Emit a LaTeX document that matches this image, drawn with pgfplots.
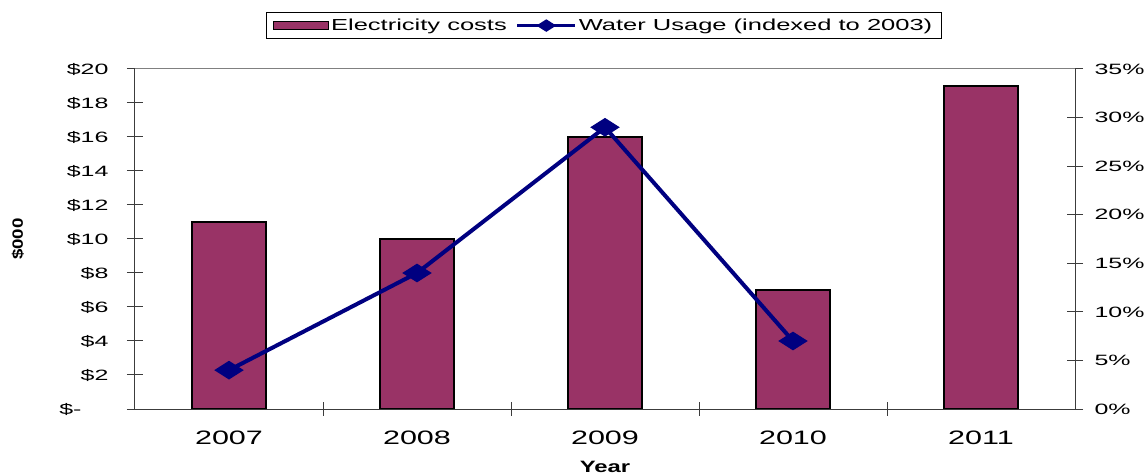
\documentclass[border=0pt]{standalone}
\usepackage{fontspec}
\setmainfont{Liberation Sans}
\newfontfamily\tickfont{Liberation Sans}[FakeStretch=1.67]
\newfontfamily\yearfont{Liberation Sans}[FakeStretch=1.57]
\newfontfamily\legendfont{Liberation Sans}[FakeStretch=1.6]
\newfontfamily\titlefont{Liberation Sans}[FakeStretch=1.45]
\newfontfamily\unitfont{Liberation Sans}[FakeStretch=1.25]
\usepackage{pgfplots}
\pgfplotsset{compat=1.18}
\definecolor{barplum}{RGB}{153,51,102}
\definecolor{linenavy}{RGB}{0,0,128}
\definecolor{axisdark}{RGB}{60,60,60}

\pgfplotsset{
  waterlegend/.style={
    legend image code/.code={
      \draw[##1, line width=3bp, mark size=4.5bp, mark repeat=2, mark phase=2]
        plot coordinates {(0bp,0bp) (29bp,0bp) (58bp,0bp)};}},
  barlegend/.style={
    legend image code/.code={
      \draw[fill=barplum, draw=black, line width=1.2bp] (0bp,-4bp) rectangle (55bp,4bp);}},
}

\begin{document}
\begin{tikzpicture}
\useasboundingbox (-135bp,-65bp) rectangle (1011bp,409bp);
\pgfplotsset{
  base/.style={
    at={(0bp,0bp)}, anchor=south west,
    scale only axis, width=940bp, height=340bp,
    xmin=-0.5, xmax=4.5,
    tick align=center,
    major tick length=16bp,
    minor tick length=13bp,
    axis line style={axisdark, line width=1bp},
    tick style={axisdark, line width=1bp},
    tick label style={font=\tickfont\fontsize{15}{18}\selectfont},
    /pgf/number format/assume math mode=true,
  }
}
% Electricity costs (left axis, $000)
\begin{axis}[base,
  ymin=0, ymax=20, ytick={0,2,...,20},
  yticklabels={\$-\kern27bp\relax,\$2,\$4,\$6,\$8,\$10,\$12,\$14,\$16,\$18,\$20},
  yticklabel style={xshift=-15bp},
  axis y line*=left, axis x line*=bottom,
  xtick={0,1,2,3,4}, xticklabels={2007,2008,2009,2010,2011},
  x tick label style={font=\yearfont\fontsize{19.5}{23}\selectfont, yshift=-10bp},
  major x tick style={draw=none},
  minor xtick={0.5,1.5,2.5,3.5},
  xlabel={Year},
  xlabel style={at={(axis description cs:0.5,0)}, anchor=base, inner sep=0pt,
    yshift=-63bp,
    font=\titlefont\bfseries\fontsize{16.5}{20}\selectfont},
  ylabel={\$000},
  ylabel style={at={(axis description cs:0,0.5)}, anchor=center, yshift=117bp,
    font=\unitfont\bfseries\fontsize{15}{18}\selectfont},
]
\addplot[ybar, bar width=74bp, fill=barplum, draw=black, line width=1.2bp]
  coordinates {(0,11) (1,10) (2,16) (3,7) (4,19)};
\end{axis}
% Water usage (right axis, %)
\begin{axis}[base,
  ymin=0, ymax=35, ytick={0,5,...,35},
  yticklabel={\pgfmathprintnumber{\tick}\%},
  yticklabel style={xshift=8bp},
  axis y line*=right, axis x line*=top,
  x axis line style={draw=gray},
  xtick=\empty,
  legend columns=2,
  legend style={at={(0.4985,1)}, anchor=south, yshift=30bp,
    draw=black, line width=0.8bp, inner ysep=4.5bp, inner xsep=7bp,
    font=\legendfont\fontsize{16}{19}\selectfont,
    /tikz/every even column/.append style={column sep=7bp}},
]
\addlegendimage{barlegend}
\addlegendentry{Electricity costs}
\addplot[linenavy, line width=4bp, mark=diamond*, mark size=7bp,
  mark options={xscale=2.1, yscale=1, solid}, waterlegend]
  coordinates {(0,4) (1,14) (2,29) (3,7)};
\addlegendentry{Water Usage (indexed to 2003)}
\end{axis}
\end{tikzpicture}
\end{document}
